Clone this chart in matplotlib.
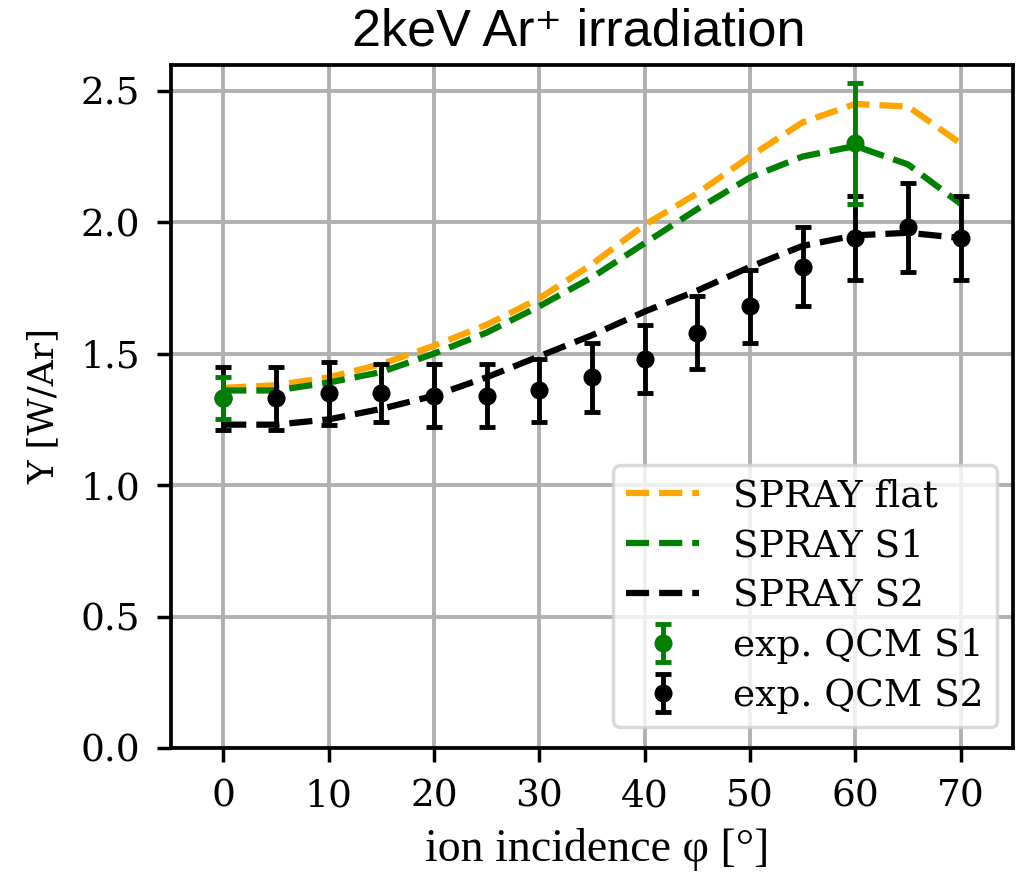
import matplotlib
matplotlib.use("Agg")
import matplotlib.pyplot as plt

angles = [0, 5, 10, 15, 20, 25, 30, 35, 40, 45, 50, 55, 60, 65, 70]
spray_flat = [1.37, 1.38, 1.41, 1.46, 1.53, 1.61, 1.71, 1.84, 1.99, 2.11, 2.25, 2.38, 2.45, 2.44, 2.30]
spray_s1 = [1.36, 1.36, 1.39, 1.43, 1.50, 1.58, 1.68, 1.79, 1.92, 2.05, 2.17, 2.25, 2.29, 2.22, 2.07]
spray_s2 = [1.23, 1.23, 1.25, 1.29, 1.34, 1.41, 1.49, 1.57, 1.66, 1.74, 1.83, 1.91, 1.95, 1.96, 1.94]

exp_s1_x = [0, 60]
exp_s1_y = [1.33, 2.30]
exp_s1_err = [0.08, 0.23]

exp_s2_x = [0, 5, 10, 15, 20, 25, 30, 35, 40, 45, 50, 55, 60, 65, 70]
exp_s2_y = [1.33, 1.33, 1.35, 1.35, 1.34, 1.34, 1.36, 1.41, 1.48, 1.58, 1.68, 1.83, 1.94, 1.98, 1.94]
exp_s2_err = [0.12, 0.12, 0.12, 0.11, 0.12, 0.12, 0.12, 0.13, 0.13, 0.14, 0.14, 0.15, 0.16, 0.17, 0.16]

plt.rcParams['font.family'] = ['DejaVu Serif']
plt.rcParams['mathtext.fontset'] = 'dejavuserif'

W, H = 1022, 877
fig = plt.figure(figsize=(W / 100, H / 100), dpi=100)
L, R, T, B = 170.5, 1013.3, 64.5, 748
ax = fig.add_axes([L / W, 1 - B / H, (R - L) / W, (B - T) / H])

ax.plot(angles, spray_flat, '--', color='orange', lw=4.5, label='SPRAY flat', zorder=3)
ax.plot(angles, spray_s1, '--', color='green', lw=4.5, label='SPRAY S1', zorder=3)
ax.plot(angles, spray_s2, '--', color='black', lw=4.5, label='SPRAY S2', zorder=3)
ax.errorbar(exp_s1_x, exp_s1_y, yerr=exp_s1_err, fmt='o', color='green', ms=12,
            elinewidth=3.5, capsize=6, capthick=3.5, label='exp. QCM S1', zorder=5)
ax.errorbar(exp_s2_x, exp_s2_y, yerr=exp_s2_err, fmt='o', color='black', ms=12,
            elinewidth=3.5, capsize=6, capthick=3.5, label='exp. QCM S2', zorder=4)

ax.set_xlim(-5, 75)
ax.set_ylim(0, 2.6)
ax.set_xticks(range(0, 71, 10))
ax.set_yticks([0, 0.5, 1.0, 1.5, 2.0, 2.5])
ax.grid(True, color='#b0b0b0', lw=2.8)
ax.set_axisbelow(True)
for s in ax.spines.values():
    s.set_linewidth(2.7)
ax.tick_params(labelsize=27, width=2.5, length=10, pad=12)
ax.set_xlabel('ion incidence φ [°]', fontsize=33, family=['Liberation Serif', 'DejaVu Serif'], labelpad=10)
ax.xaxis.label.set_x((597 - L) / (R - L))
ax.set_ylabel('Y [W/Ar]', fontsize=26, labelpad=14)
fig.text(579 / W, 1 - 45 / H, '2keV Ar⁺ irradiation', fontsize=37.5, ha='center', va='baseline',
         family=['Liberation Sans', 'DejaVu Sans'])

leg = ax.legend(loc='lower right', fontsize=27, handlelength=1.95, framealpha=0.8,
                borderpad=0.35, labelspacing=0.37, handletextpad=0.9,
                bbox_to_anchor=((997 - L) / (R - L), (B - 727) / (B - T)), borderaxespad=0)
leg.get_frame().set_linewidth(2.5)
leg.get_frame().set_edgecolor('#d0d0d0')

fig.savefig('out.png', dpi=100)
